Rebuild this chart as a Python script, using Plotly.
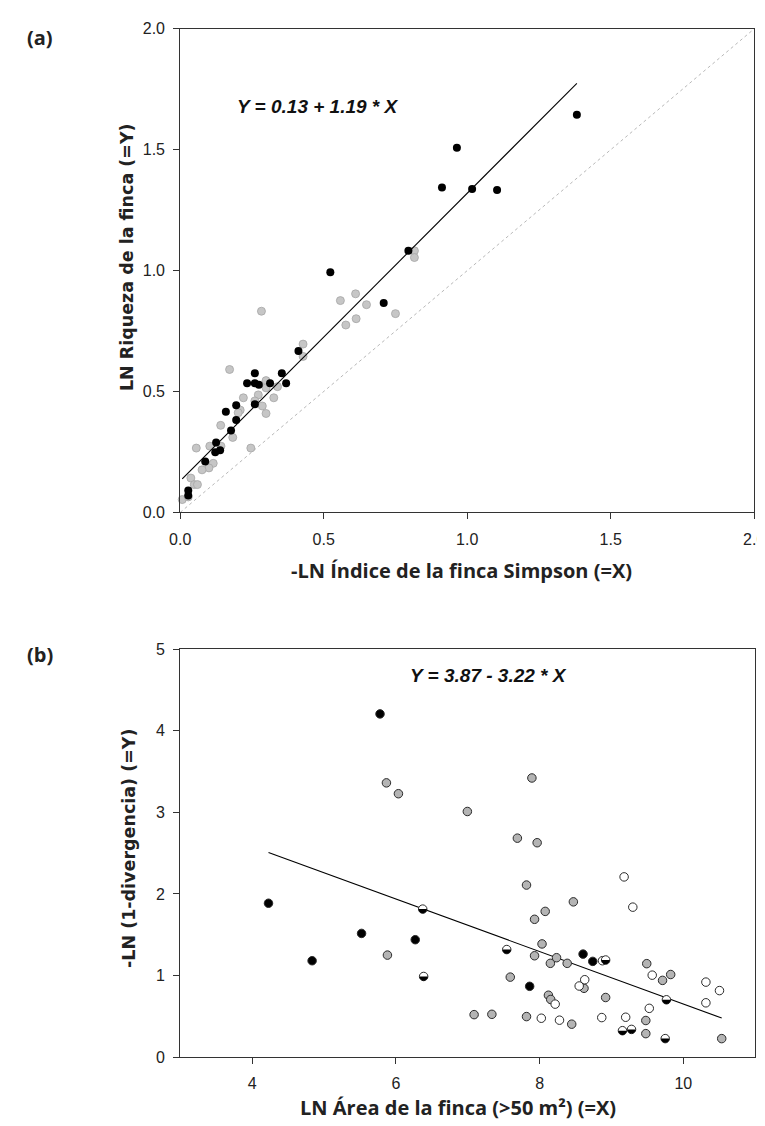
import numpy as np
import plotly.graph_objects as go

# ---------------- Panel (a) data ----------------
a_gray_x = [0.283, 0.577, 0.613, 0.750, 0.611, 0.558, 0.649, 0.816, 0.816, 0.428, 0.428, 0.172,
            0.299, 0.299, 0.339, 0.220, 0.272, 0.326, 0.260, 0.286, 0.299, 0.209, 0.202, 0.141,
            0.183, 0.246, 0.056, 0.103, 0.142, 0.115, 0.100, 0.076, 0.037, 0.049, 0.060, 0.007, 0.028]
a_gray_y = [0.832, 0.775, 0.801, 0.822, 0.904, 0.876, 0.859, 1.082, 1.054, 0.696, 0.645, 0.591,
            0.545, 0.515, 0.520, 0.474, 0.486, 0.474, 0.461, 0.440, 0.409, 0.423, 0.412, 0.360,
            0.310, 0.266, 0.266, 0.274, 0.274, 0.203, 0.184, 0.176, 0.142, 0.115, 0.115, 0.053, 0.064]
a_black_x = [1.382, 0.964, 0.912, 1.017, 1.104, 0.795, 0.523, 0.709, 0.412, 0.354, 0.260, 0.369,
             0.233, 0.260, 0.274, 0.313, 0.260, 0.195, 0.159, 0.195, 0.177, 0.125, 0.122, 0.139,
             0.087, 0.028, 0.028]
a_black_y = [1.645, 1.508, 1.344, 1.337, 1.333, 1.082, 0.993, 0.866, 0.667, 0.575, 0.575, 0.534,
             0.534, 0.534, 0.528, 0.534, 0.447, 0.443, 0.416, 0.382, 0.339, 0.289, 0.249, 0.257,
             0.210, 0.091, 0.070]
a_intercept, a_slope = 0.13, 1.19
a_eq = "Y = 0.13 + 1.19 * X"
a_ticks = [0.0, 0.5, 1.0, 1.5, 2.0]

# ---------------- Panel (b) data ----------------
b_black_x = [5.780, 4.228, 4.835, 5.523, 6.270, 7.862, 8.605, 8.740]
b_black_y = [4.208, 1.886, 1.181, 1.516, 1.439, 0.867, 1.262, 1.173]
b_half_x = [6.374, 6.387, 7.543, 8.919, 9.765, 9.153, 9.279, 9.748]
b_half_y = [1.814, 0.988, 1.318, 1.190, 0.702, 0.323, 0.339, 0.226]
b_gray_x = [5.869, 6.036, 5.883, 7.893, 6.995, 7.691, 7.966, 7.818, 8.470, 8.078, 7.930, 8.034,
            7.930, 8.236, 8.150, 8.384, 7.592, 9.491, 9.824, 9.711, 8.618, 8.123, 8.155, 8.919,
            7.089, 7.336, 7.818, 8.447, 9.478, 9.478, 10.534]
b_gray_y = [3.362, 3.229, 1.250, 3.422, 3.011, 2.684, 2.628, 2.109, 1.903, 1.786, 1.689, 1.387,
            1.242, 1.218, 1.149, 1.149, 0.980, 1.145, 1.012, 0.940, 0.843, 0.758, 0.706, 0.730,
            0.520, 0.524, 0.496, 0.403, 0.448, 0.287, 0.226]
b_white_x = [9.176, 9.297, 8.875, 8.628, 8.551, 9.567, 10.314, 10.503, 10.314, 8.217, 9.526,
             8.024, 8.277, 8.865, 9.198]
b_white_y = [2.209, 1.838, 1.181, 0.948, 0.871, 1.004, 0.919, 0.815, 0.665, 0.649, 0.597,
             0.476, 0.452, 0.484, 0.488]
b_intercept, b_slope = 3.87, -0.322
b_eq = "Y = 3.87 - 3.22 * X"
b_ticks = [4, 6, 8, 10]

W, H = 765, 1126
def px(x):
    return x / W
def py(y):
    return 1 - y / H

fig = go.Figure()

# ---- panel a traces ----
fig.add_trace(go.Scatter(x=[0, 2], y=[0, 2], mode="lines", xaxis="x", yaxis="y",
                         line=dict(color="#b8b8b8", width=1, dash="dot"), showlegend=False))
fig.add_trace(go.Scatter(x=a_gray_x, y=a_gray_y, mode="markers", xaxis="x", yaxis="y",
                         marker=dict(size=8, color="#c6c6c6", line=dict(color="#a4a4a4", width=0.8)),
                         cliponaxis=False, showlegend=False))
fig.add_trace(go.Scatter(x=a_black_x, y=a_black_y, mode="markers", xaxis="x", yaxis="y",
                         marker=dict(size=8, color="#000000", line=dict(color="#000000", width=0)),
                         cliponaxis=False, showlegend=False))
all_ax = a_gray_x + a_black_x
ax_line = np.array([min(all_ax), max(all_ax)])
fig.add_trace(go.Scatter(x=ax_line, y=a_intercept + a_slope * ax_line, mode="lines", xaxis="x", yaxis="y",
                         line=dict(color="#000000", width=1.1), showlegend=False))

# ---- panel b traces ----
all_bx = b_black_x + b_half_x + b_gray_x + b_white_x
bx_line = np.array([min(all_bx), max(all_bx)])
fig.add_trace(go.Scatter(x=bx_line, y=b_intercept + b_slope * bx_line, mode="lines", xaxis="x2", yaxis="y2",
                         line=dict(color="#000000", width=1.1), showlegend=False))
mk_line = dict(color="#2a2a2a", width=1)
fig.add_trace(go.Scatter(x=b_gray_x, y=b_gray_y, mode="markers", xaxis="x2", yaxis="y2",
                         marker=dict(size=8.5, color="#b4b4b4", line=mk_line), cliponaxis=False, showlegend=False))
fig.add_trace(go.Scatter(x=b_white_x, y=b_white_y, mode="markers", xaxis="x2", yaxis="y2",
                         marker=dict(size=8.5, color="#ffffff", line=mk_line), cliponaxis=False, showlegend=False))
fig.add_trace(go.Scatter(x=b_black_x, y=b_black_y, mode="markers", xaxis="x2", yaxis="y2",
                         marker=dict(size=8.5, color="#000000", line=mk_line), cliponaxis=False, showlegend=False))
fig.add_trace(go.Scatter(x=b_half_x, y=b_half_y, mode="markers", xaxis="x2", yaxis="y2",
                         marker=dict(size=8.5, color="#ffffff", line=mk_line), cliponaxis=False, showlegend=False))

# lower-half black fill for half-filled markers (pixel-sized template anchored at data points)
r = 4.2
ts = np.linspace(0, np.pi, 16)
half_path = "M " + " L ".join(f"{r*np.cos(t):.2f},{-r*np.sin(t):.2f}" for t in ts) + " Z"
shapes = []
for hx, hy in zip(b_half_x, b_half_y):
    shapes.append(dict(type="path", xref="x2", yref="y2", xsizemode="pixel", ysizemode="pixel",
                       xanchor=hx, yanchor=hy, path=half_path, fillcolor="#000000",
                       line=dict(width=0), layer="above"))

tickfont = dict(family="Liberation Sans, Arial, sans-serif", size=16, color="#222222")
axis_common = dict(showgrid=False, zeroline=False, showline=True, mirror=True, linecolor="#333333",
                   linewidth=1, ticks="outside", ticklen=6, tickcolor="#333333", tickwidth=1,
                   tickfont=tickfont, ticklabeloverflow="allow")

title_font = dict(family="Open Sans, sans-serif", size=20, color="#222222")
ytitle_font = dict(family="DejaVu Sans, sans-serif", size=17.5, color="#222222")
eq_font = dict(family="Liberation Sans, Arial, sans-serif", size=19, color="#111111")

annotations = [
    dict(text="<b>(a)</b>", x=px(22), y=py(22), xref="paper", yref="paper", showarrow=False,
         font=title_font, xanchor="center", yanchor="middle"),
    dict(text="<b>(b)</b>", x=px(22), y=py(648), xref="paper", yref="paper", showarrow=False,
         font=title_font, xanchor="center", yanchor="middle"),
    dict(text="<b>LN Riqueza de la finca (=Y)</b>", x=px(111), y=py(245), xref="paper", yref="paper",
         showarrow=False, textangle=-90, font=ytitle_font, xanchor="center", yanchor="middle"),
    dict(text="<b>-LN Índice de la finca Simpson (=X)</b>", x=px(456), y=py(563), xref="paper", yref="paper",
         showarrow=False, font=title_font, xanchor="center", yanchor="middle"),
    dict(text="<b>-LN (1-divergencia) (=Y)</b>", x=px(113), y=py(845), xref="paper", yref="paper",
         showarrow=False, textangle=-90, font=ytitle_font, xanchor="center", yanchor="middle"),
    dict(text="<b>LN Área de la finca (>50 m²) (=X)</b>", x=px(452), y=py(1108), xref="paper", yref="paper",
         showarrow=False, font=title_font, xanchor="center", yanchor="middle"),
    dict(text=f"<b><i>{a_eq}</i></b>", x=0.479, y=1.678, xref="x", yref="y", showarrow=False,
         font=eq_font, xanchor="center", yanchor="middle"),
    dict(text=f"<b><i>{b_eq}</i></b>", x=7.289, y=4.676, xref="x2", yref="y2", showarrow=False,
         font=eq_font, xanchor="center", yanchor="middle"),
]

fig.update_layout(
    width=W, height=H, margin=dict(l=0, r=0, t=0, b=0),
    paper_bgcolor="white", plot_bgcolor="white",
    xaxis=dict(domain=[px(166), px(757)], range=[0, 2], tickvals=a_ticks, tickformat=".1f",
               anchor="y", ticklabelstandoff=6, **axis_common),
    yaxis=dict(domain=[py(504), py(13)], range=[0, 2], tickvals=a_ticks, tickformat=".1f",
               anchor="x", ticklabelstandoff=5, **axis_common),
    xaxis2=dict(domain=[px(166), px(758)], range=[3, 11], tickvals=b_ticks,
                anchor="y2", ticklabelstandoff=6, **axis_common),
    yaxis2=dict(domain=[py(1057), py(643)], range=[0, 5], dtick=1,
                anchor="x2", ticklabelstandoff=5, **axis_common),
    shapes=shapes,
    annotations=annotations,
)

fig.write_html("out.html")
